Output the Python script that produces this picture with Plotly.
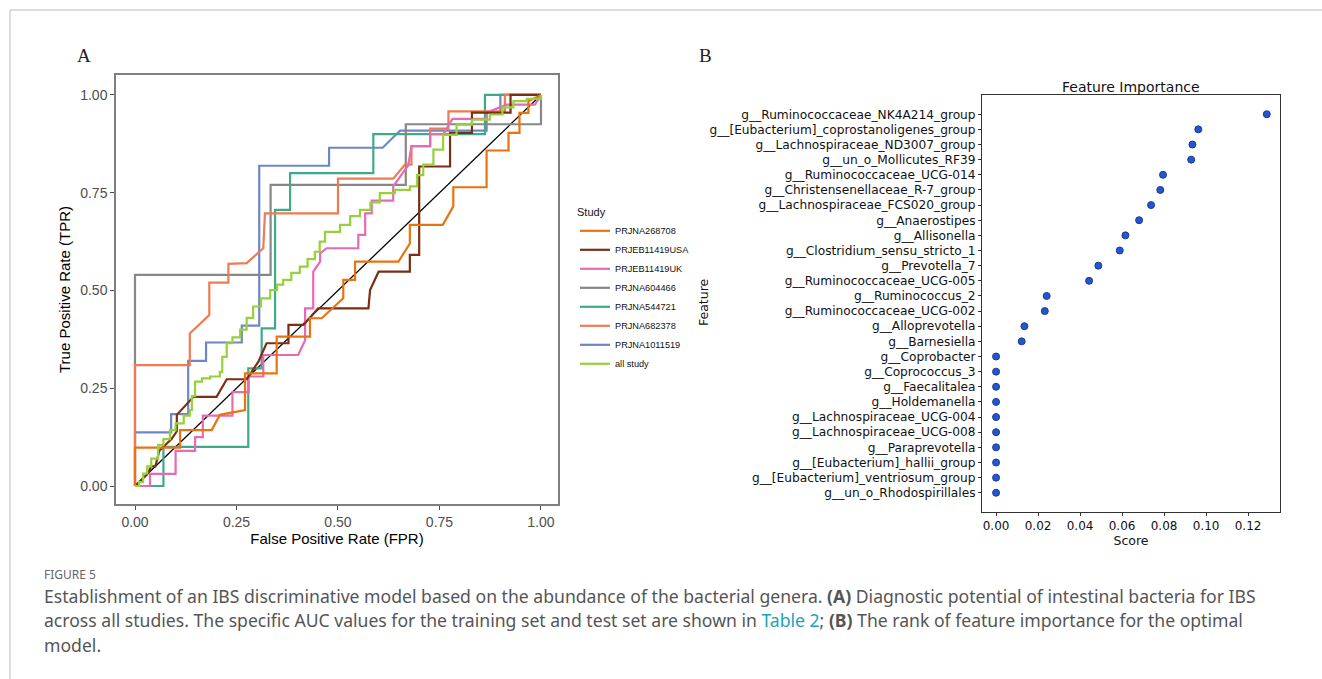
import plotly.graph_objects as go

# ---------------- Panel A data: ROC curves (FPR, TPR) ----------------
study_names = ["PRJNA268708", "PRJEB11419USA", "PRJEB11419UK", "PRJNA604466",
               "PRJNA544721", "PRJNA682378", "PRJNA1011519", "all study"]
study_colors = ["#E9730F", "#7A2E12", "#E76BB4", "#878787",
                "#3FAA8A", "#F07A52", "#6F86C4", "#96D03C"]

fpr_268708 = [0, 0, 0.111, 0.111, 0.189, 0.209, 0.271, 0.271, 0.349, 0.349, 0.431, 0.431, 0.46, 0.513,
              0.513, 0.542, 0.542, 0.649, 0.677, 0.677, 0.758, 0.784, 0.784, 0.866, 0.866, 0.92, 0.92,
              0.947, 0.947, 0.969, 0.969, 1]
tpr_268708 = [0, 0.098, 0.098, 0.143, 0.143, 0.182, 0.194, 0.288, 0.288, 0.382, 0.382, 0.429, 0.429, 0.48,
              0.527, 0.527, 0.574, 0.574, 0.62, 0.668, 0.668, 0.715, 0.764, 0.764, 0.858, 0.858, 0.903,
              0.903, 0.954, 0.954, 0.984, 1]

fpr_usa = [0, 0.03, 0.04, 0.05, 0.06, 0.09, 0.103, 0.103, 0.144, 0.201, 0.226, 0.275, 0.304, 0.324, 0.378,
           0.378, 0.415, 0.451, 0.575, 0.579, 0.6, 0.677, 0.677, 0.70, 0.70, 0.776, 0.776, 0.83, 0.83,
           0.925, 0.925, 1]
tpr_usa = [0, 0.03, 0.05, 0.05, 0.09, 0.12, 0.14, 0.182, 0.228, 0.228, 0.273, 0.273, 0.318, 0.365, 0.365,
           0.412, 0.412, 0.454, 0.454, 0.501, 0.548, 0.548, 0.591, 0.591, 0.817, 0.817, 0.903, 0.903,
           0.955, 0.955, 1.0, 1]

fpr_uk = [0, 0.037, 0.037, 0.1, 0.1, 0.148, 0.148, 0.167, 0.167, 0.24, 0.24, 0.28, 0.28, 0.316, 0.316,
          0.402, 0.419, 0.419, 0.439, 0.439, 0.456, 0.456, 0.472, 0.55, 0.55, 0.567, 0.567, 0.583, 0.583,
          0.636, 0.636, 0.673, 0.681, 0.727, 0.727, 0.76, 0.782, 0.866, 0.866, 0.916, 0.985, 1]
tpr_uk = [0, 0, 0.031, 0.031, 0.09, 0.09, 0.125, 0.125, 0.18, 0.18, 0.24, 0.24, 0.28, 0.28, 0.335,
          0.335, 0.373, 0.454, 0.454, 0.548, 0.574, 0.595, 0.608, 0.608, 0.642, 0.642, 0.697, 0.697, 0.73,
          0.73, 0.766, 0.82, 0.869, 0.869, 0.9, 0.9, 0.939, 0.939, 0.955, 0.975, 0.975, 1]

fpr_604466 = [0, 0, 0.334, 0.334, 0.667, 0.667, 1, 1]
tpr_604466 = [0, 0.54, 0.54, 0.77, 0.77, 0.925, 0.925, 1]

fpr_544721 = [0, 0.07, 0.07, 0.279, 0.279, 0.312, 0.312, 0.345, 0.345, 0.382, 0.382, 0.587, 0.587, 0.862,
              0.862, 1]
tpr_544721 = [0, 0, 0.1, 0.1, 0.301, 0.301, 0.403, 0.403, 0.706, 0.706, 0.80, 0.80, 0.90, 0.90, 1, 1]

fpr_682378 = [0, 0, 0.135, 0.135, 0.183, 0.183, 0.23, 0.23, 0.275, 0.316, 0.32, 0.5, 0.5, 0.636, 0.665,
              0.681, 0.681, 0.727, 0.727, 0.772, 0.772, 0.911, 0.911, 1]
tpr_682378 = [0, 0.309, 0.309, 0.39, 0.437, 0.52, 0.52, 0.568, 0.57, 0.608, 0.697, 0.697, 0.786, 0.786,
              0.822, 0.822, 0.869, 0.869, 0.914, 0.914, 0.958, 0.958, 1.0, 1]

fpr_1011519 = [0, 0, 0.089, 0.089, 0.131, 0.131, 0.175, 0.175, 0.263, 0.263, 0.306, 0.306, 0.478, 0.478,
               0.61, 0.653, 0.866, 0.866, 0.9, 0.9, 1]
tpr_1011519 = [0, 0.137, 0.137, 0.184, 0.184, 0.32, 0.32, 0.367, 0.367, 0.41, 0.41, 0.819, 0.819, 0.865,
               0.865, 0.909, 0.909, 0.954, 0.954, 1.0, 1]

fpr_all = [0, 0.01, 0.02, 0.03, 0.04, 0.057, 0.07, 0.086, 0.1, 0.12, 0.135, 0.14, 0.148, 0.165, 0.185,
           0.209, 0.215, 0.226, 0.24, 0.259, 0.275, 0.291, 0.31, 0.333, 0.35, 0.365, 0.385, 0.406, 0.425,
           0.443, 0.455, 0.468, 0.505, 0.53, 0.554, 0.58, 0.603, 0.64, 0.677, 0.695, 0.71, 0.735, 0.759,
           0.792, 0.83, 0.874, 0.905, 0.932, 0.965, 1]
tpr_all = [0, 0.01, 0.032, 0.05, 0.07, 0.105, 0.12, 0.143, 0.16, 0.18, 0.194, 0.23, 0.267, 0.275, 0.28,
           0.292, 0.33, 0.365, 0.38, 0.40, 0.43, 0.459, 0.48, 0.501, 0.515, 0.527, 0.545, 0.561, 0.58,
           0.599, 0.625, 0.65, 0.668, 0.69, 0.706, 0.725, 0.749, 0.757, 0.766, 0.795, 0.822, 0.86, 0.898,
           0.924, 0.937, 0.95, 0.968, 0.984, 0.99, 1]

study_fpr = [fpr_268708, fpr_usa, fpr_uk, fpr_604466, fpr_544721, fpr_682378, fpr_1011519, fpr_all]
study_tpr = [tpr_268708, tpr_usa, tpr_uk, tpr_604466, tpr_544721, tpr_682378, tpr_1011519, tpr_all]
study_shape = ["linear"] * 7 + ["hv"]

roc_ticks = [0, 0.25, 0.5, 0.75, 1.0]
roc_ticktext = ["0.00", "0.25", "0.50", "0.75", "1.00"]

# ---------------- Panel B data: feature importance ----------------
features = ["g__Ruminococcaceae_NK4A214_group", "g__[Eubacterium]_coprostanoligenes_group",
            "g__Lachnospiraceae_ND3007_group", "g__un_o_Mollicutes_RF39",
            "g__Ruminococcaceae_UCG-014", "g__Christensenellaceae_R-7_group",
            "g__Lachnospiraceae_FCS020_group", "g__Anaerostipes", "g__Allisonella",
            "g__Clostridium_sensu_stricto_1", "g__Prevotella_7", "g__Ruminococcaceae_UCG-005",
            "g__Ruminococcus_2", "g__Ruminococcaceae_UCG-002", "g__Alloprevotella", "g__Barnesiella",
            "g__Coprobacter", "g__Coprococcus_3", "g__Faecalitalea", "g__Holdemanella",
            "g__Lachnospiraceae_UCG-004", "g__Lachnospiraceae_UCG-008", "g__Paraprevotella",
            "g__[Eubacterium]_hallii_group", "g__[Eubacterium]_ventriosum_group",
            "g__un_o_Rhodospirillales"]
scores = [0.1289, 0.0963, 0.0935, 0.0929, 0.0795, 0.0782, 0.0738, 0.0681, 0.0616, 0.0589, 0.0487,
          0.0443, 0.0241, 0.0232, 0.0135, 0.0122, 0, 0, 0, 0, 0, 0, 0, 0, 0, 0]
score_ticks = [0, 0.02, 0.04, 0.06, 0.08, 0.10, 0.12]
score_ticktext = ["0.00", "0.02", "0.04", "0.06", "0.08", "0.10", "0.12"]

W, H = 1322, 679


def px(x):
    return x / W


def py(y):
    return 1 - y / H


fig = go.Figure()

# reference diagonal
fig.add_trace(go.Scatter(x=[0, 1], y=[0, 1], mode="lines", line=dict(color="black", width=1.3),
                         showlegend=False, hoverinfo="skip", xaxis="x", yaxis="y"))

draw_order = [6, 4, 3, 5, 2, 1, 0, 7]
traces = {}
for i in range(len(study_names)):
    traces[i] = go.Scatter(x=study_fpr[i], y=study_tpr[i], mode="lines", name=study_names[i],
                           line=dict(color=study_colors[i], width=2.2, shape=study_shape[i]),
                           legendrank=i + 1, legendgroup=study_names[i], xaxis="x", yaxis="y")
for i in draw_order:
    fig.add_trace(traces[i])

fig.add_trace(go.Scatter(x=scores, y=list(range(len(features))), mode="markers",
                         marker=dict(color="#2456D0", size=7, line=dict(color="#1A3C92", width=1)),
                         showlegend=False, xaxis="x2", yaxis="y2"))

axis_gray = "#7F7F7F"
fig.update_layout(
    width=W, height=H, margin=dict(l=0, r=0, t=0, b=0),
    paper_bgcolor="white", plot_bgcolor="white",
    font=dict(family="Liberation Sans, Arial", color="#333333"),
    xaxis=dict(domain=[px(116), px(558)], range=[-0.0468, 1.0419], showgrid=False, zeroline=False,
               showline=True, mirror=True, linecolor=axis_gray, linewidth=1.5,
               ticks="outside", ticklen=4, tickcolor="#4D4D4D", tickwidth=1,
               tickvals=roc_ticks, ticktext=roc_ticktext,
               tickfont=dict(size=14, color="#4D4D4D", family="Liberation Sans, Arial"),
               title=dict(text="False Positive Rate (FPR)", font=dict(size=15, color="black"), standoff=4),
               anchor="y"),
    yaxis=dict(domain=[py(504), py(75)], range=[-0.046, 1.051], showgrid=False, zeroline=False,
               showline=True, mirror=True, linecolor=axis_gray, linewidth=1.5,
               ticks="outside", ticklen=4, tickcolor="#4D4D4D", tickwidth=1,
               tickvals=roc_ticks, ticktext=roc_ticktext,
               tickfont=dict(size=14, color="#4D4D4D", family="Liberation Sans, Arial"),
               title=dict(text="True Positive Rate (TPR)", font=dict(size=15, color="black"), standoff=6),
               anchor="x"),
    xaxis2=dict(domain=[px(982), px(1280)], range=[-0.0067, 0.1352], showgrid=False, zeroline=False,
                showline=True, mirror=True, linecolor="#333333", linewidth=1,
                ticks="outside", ticklen=3, tickcolor="#333333",
                tickvals=score_ticks, ticktext=score_ticktext,
                tickfont=dict(size=12, color="#111111", family="DejaVu Sans"),
                title=dict(text="Score", font=dict(size=12.5, color="#111111", family="DejaVu Sans"), standoff=2),
                anchor="y2"),
    yaxis2=dict(domain=[py(512), py(95)], range=[26.27, -1.27], showgrid=False, zeroline=False,
                showline=True, mirror=True, linecolor="#333333", linewidth=1,
                ticks="outside", ticklen=3, tickcolor="#333333",
                tickvals=list(range(len(features))), ticktext=features,
                tickfont=dict(size=12.2, color="#111111", family="DejaVu Sans"),
                anchor="x2"),
    legend=dict(x=px(575), y=py(202), xanchor="left", yanchor="top",
                title=dict(text="Study", font=dict(size=11, color="#111111")),
                font=dict(size=9.2, color="#111111", family="Liberation Sans, Arial"),
                traceorder="grouped", tracegroupgap=0, bgcolor="rgba(0,0,0,0)", itemwidth=30),
)

annotations = [
    dict(text="A", x=px(75), y=py(55), xanchor="left", yanchor="middle", showarrow=False,
         font=dict(size=19, family="Liberation Serif, DejaVu Serif", color="#222222")),
    dict(text="B", x=px(697), y=py(55), xanchor="left", yanchor="middle", showarrow=False,
         font=dict(size=19, family="Liberation Serif, DejaVu Serif", color="#222222")),
    dict(text="Feature Importance", x=px(1131), y=py(87), xanchor="center", yanchor="middle",
         showarrow=False, font=dict(size=14, family="DejaVu Sans", color="#111111")),
    dict(text="Feature", x=px(703), y=py(302), xanchor="center", yanchor="middle", textangle=-90,
         showarrow=False, font=dict(size=12.5, family="DejaVu Sans", color="#111111")),
    dict(text="FIGURE 5", x=px(42), y=py(574), xanchor="left", yanchor="middle", showarrow=False,
         font=dict(size=12, family="Noto Sans", color="#666666")),
    dict(text="Establishment of an IBS discriminative model based on the abundance of the bacterial genera. "
              "<b>(A)</b> Diagnostic potential of intestinal bacteria for IBS",
         x=px(42), y=py(596), xanchor="left", yanchor="middle", showarrow=False,
         font=dict(size=17.6, family="Noto Sans", color="#555555")),
    dict(text="across all studies. The specific AUC values for the training set and test set are shown in "
              "<span style='color:#1BA3B8'>Table 2</span>; <b>(B)</b> The rank of feature importance for the optimal",
         x=px(42), y=py(620), xanchor="left", yanchor="middle", showarrow=False,
         font=dict(size=17.6, family="Noto Sans", color="#555555")),
    dict(text="model.", x=px(42), y=py(645), xanchor="left", yanchor="middle", showarrow=False,
         font=dict(size=17.6, family="Noto Sans", color="#555555")),
]
for a in annotations:
    a.setdefault("xref", "paper")
    a.setdefault("yref", "paper")
fig.update_layout(annotations=annotations)

fig.update_layout(shapes=[
    dict(type="line", xref="paper", yref="paper", x0=px(10), x1=1, y0=py(10), y1=py(10),
         line=dict(color="#BBBBBB", width=1)),
    dict(type="line", xref="paper", yref="paper", x0=px(10), x1=px(10), y0=0, y1=py(10),
         line=dict(color="#BBBBBB", width=1)),
])

fig.write_html("out.html")
